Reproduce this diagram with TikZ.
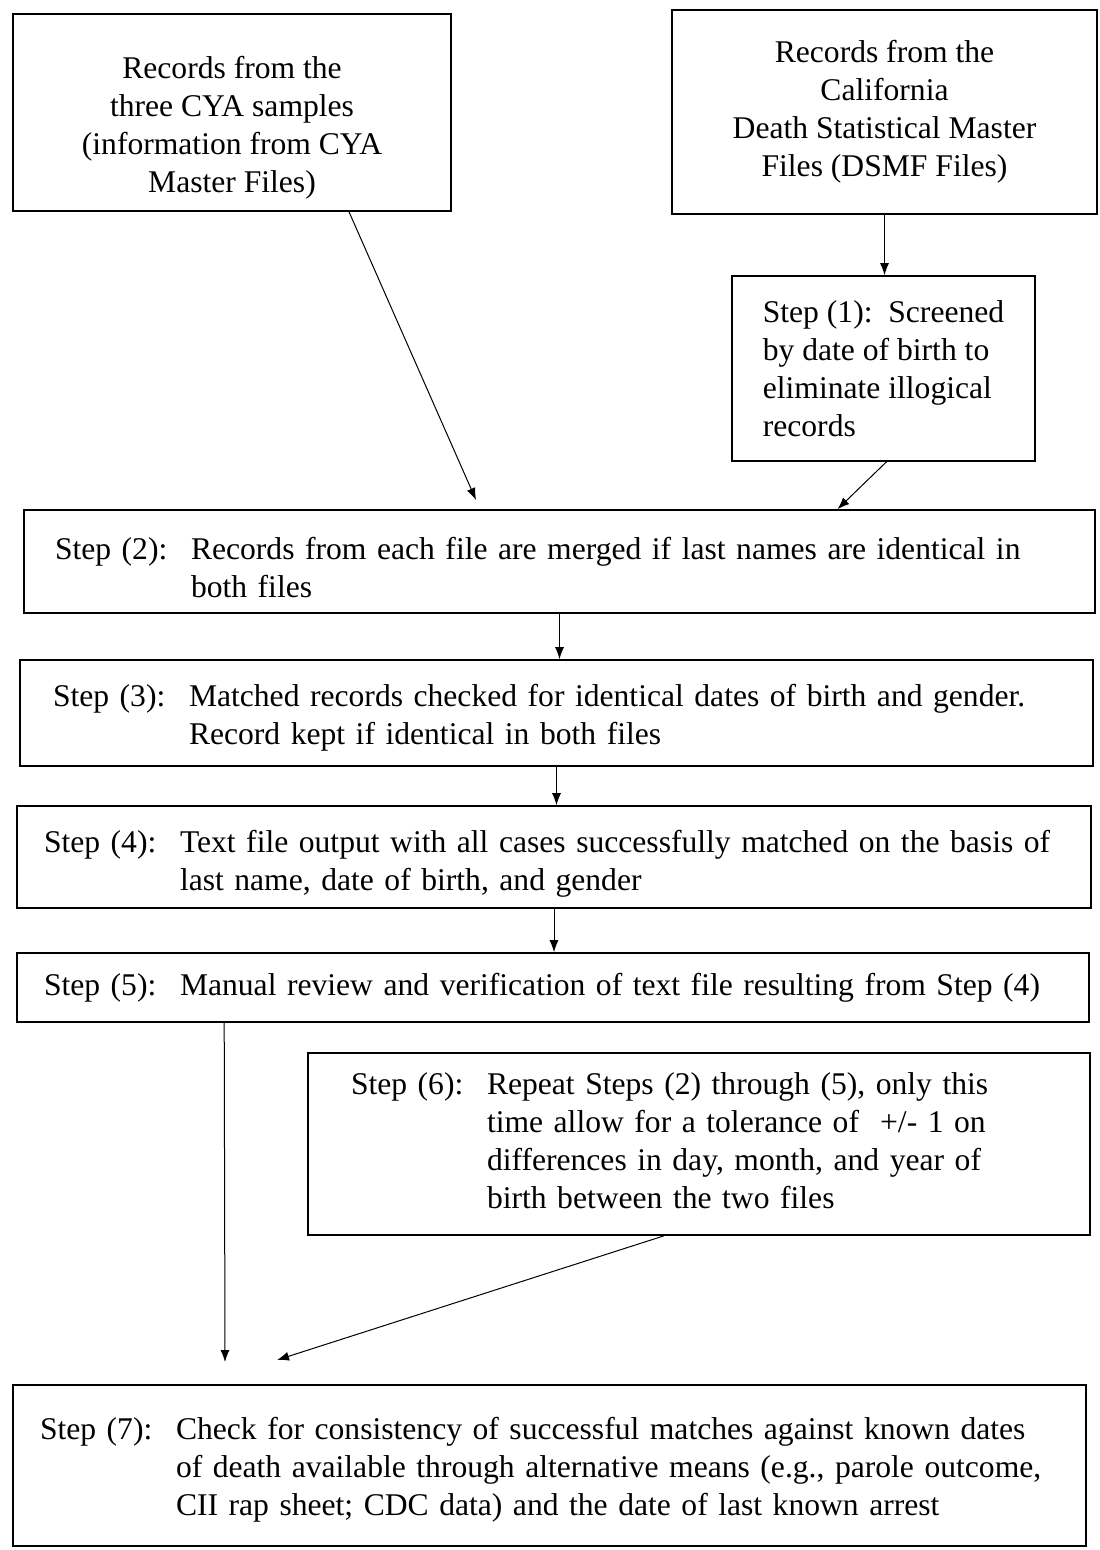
\documentclass[tikz,border=0pt]{standalone}
\usepackage{fontspec}
\setmainfont{Liberation Serif}
\usetikzlibrary{arrows.meta}

\tikzset{
  box/.style={draw, line width=0.8pt, inner ysep=0pt, font=\fontsize{15.8}{19}\selectfont},
  stepbox/.style={box, align=left},
  arr/.style={-{Latex[length=6pt,width=4.5pt]}, line width=0.5pt}
}

\begin{document}
\begin{tikzpicture}[x=0.5pt, y=-0.5pt]
    % Page size of the scan
    \useasboundingbox (0,0) rectangle (1099,1550);

    % The two source files
    \node[box, align=center, minimum width=219pt, minimum height=98.5pt] (cya) at (232,112.5)
        {\rule{0pt}{26pt}Records from the\\three CYA samples\\(information from CYA\\Master Files)};
    \node[box, align=center, minimum width=212.5pt, minimum height=102pt] (dsmf) at (884.5,112)
        {Records from the\\California\\Death Statistical Master\\Files (DSMF Files)};

    % Screening of the death records
    \node[stepbox, minimum width=151.5pt, minimum height=92.5pt] (step1) at (883.5,368.5)
        {Step (1):\ \ Screened\\by date of birth to\\eliminate illogical\\records};

    % Matching steps
    \node[stepbox, text width=504.5pt, inner xsep=15.5pt, minimum height=51.5pt] (step2) at (559.5,561.5)
        {\begin{tabular}{@{}p{68pt}@{}l@{}}
         \rule{0pt}{23pt}Step (2): & Records from each file are merged if last names are identical in\\
                   & both files
         \end{tabular}};
    \node[stepbox, text width=503.5pt, inner xsep=16.5pt, minimum height=53pt] (step3) at (556.5,713)
        {\begin{tabular}{@{}p{68pt}@{}l@{}}
         \rule{0pt}{18pt}Step (3): & Matched records checked for identical dates of birth and gender.\\
                   & Record kept if identical in both files
         \end{tabular}};
    \node[stepbox, text width=510pt, inner xsep=13.5pt, minimum height=51pt] (step4) at (554,857)
        {\begin{tabular}{@{}p{68pt}@{}l@{}}
         \rule{0pt}{20pt}Step (4): & Text file output with all cases successfully matched on the basis of\\
                   & last name, date of birth, and gender
         \end{tabular}};
    \node[stepbox, text width=509pt, inner xsep=13.5pt, minimum height=34.5pt] (step5) at (553,987.5)
        {\begin{tabular}{@{}p{68pt}@{}l@{}}
         Step (5): & Manual review and verification of text file resulting from Step (4)
         \end{tabular}};
    \node[stepbox, text width=348pt, inner xsep=21.5pt, minimum height=91pt] (step6) at (699,1144)
        {\begin{tabular}{@{}p{68pt}@{}l@{}}
         Step (6): & Repeat Steps (2) through (5), only this\\
                   & time allow for a tolerance of \ +/- 1 on\\
                   & differences in day, month, and year of\\
                   & birth between the two files
         \end{tabular}};
    \node[stepbox, text width=509.5pt, inner xsep=13.5pt, minimum height=80.5pt] (step7) at (549.5,1465.5)
        {\begin{tabular}{@{}p{68pt}@{}l@{}}
         \rule{0pt}{18pt}Step (7): & Check for consistency of successful matches against known dates\\
                   & of death available through alternative means (e.g., parole outcome,\\
                   & CII rap sheet; CDC data) and the date of last known arrest
         \end{tabular}};

    % Free ends of the arrows
    \coordinate (in2) at (476,500);
    \coordinate (in7a) at (225,1362);
    \coordinate (in7b) at (277,1360);

    % Arrows
    \draw[arr] ([xshift=58.5pt]cya.south) -- (in2);
    \draw[arr] (dsmf.south) -- (dsmf.south |- step1.north);
    \draw[arr] ([xshift=1.5pt]step1.south) -- ([xshift=139pt]step2.north);
    \draw[arr] (step2.south) -- (step2.south |- step3.north);
    \draw[arr] (step3.south) -- (step3.south |- step4.north);
    \draw[arr] (step4.south) -- (step4.south |- step5.north);
    \draw[arr] ([xshift=104pt]step5.south west) -- (in7a);
    \draw[arr] ([xshift=-17.5pt]step6.south) -- (in7b);
\end{tikzpicture}
\end{document}
